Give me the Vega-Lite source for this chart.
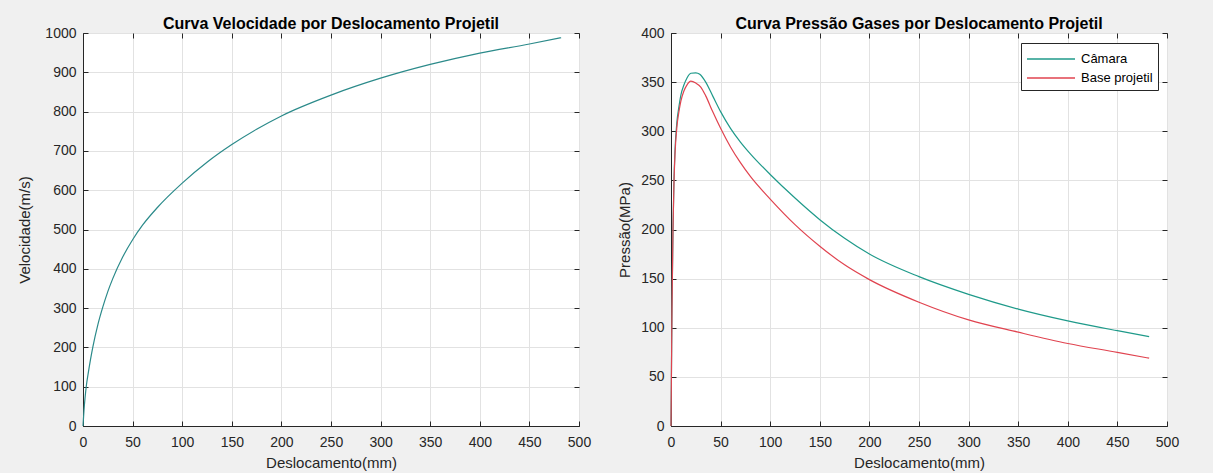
{
  "$schema": "https://vega.github.io/schema/vega-lite/v6.json",
  "padding": {"left": 17, "top": 15, "right": 34, "bottom": 4},
  "spacing": 25,
  "resolve": {"legend": {"color": "independent"}},
  "datasets": {
    "vel": [
      {"d": 0, "v": 0}, {"d": 1, "v": 40}, {"d": 2, "v": 70}, {"d": 3.5, "v": 105}, {"d": 5, "v": 130},
      {"d": 7.5, "v": 168}, {"d": 10, "v": 202}, {"d": 15, "v": 258}, {"d": 20, "v": 303}, {"d": 25, "v": 342},
      {"d": 30, "v": 375}, {"d": 40, "v": 430}, {"d": 50, "v": 474}, {"d": 60, "v": 511}, {"d": 75, "v": 556},
      {"d": 100, "v": 618}, {"d": 125, "v": 671}, {"d": 150, "v": 716}, {"d": 175, "v": 755}, {"d": 200, "v": 789},
      {"d": 250, "v": 842}, {"d": 300, "v": 885}, {"d": 350, "v": 920}, {"d": 400, "v": 949}, {"d": 450, "v": 972},
      {"d": 482, "v": 988}
    ],
    "pres": [
      {"d": 0, "p": 0, "serie": "Câmara"}, {"d": 0.5, "p": 60, "serie": "Câmara"}, {"d": 1, "p": 120, "serie": "Câmara"},
      {"d": 2, "p": 200, "serie": "Câmara"}, {"d": 3, "p": 250, "serie": "Câmara"}, {"d": 4, "p": 280, "serie": "Câmara"},
      {"d": 6, "p": 310, "serie": "Câmara"}, {"d": 8, "p": 325, "serie": "Câmara"}, {"d": 10, "p": 337, "serie": "Câmara"},
      {"d": 13, "p": 347, "serie": "Câmara"}, {"d": 16, "p": 354, "serie": "Câmara"}, {"d": 20, "p": 359, "serie": "Câmara"},
      {"d": 25, "p": 359.5, "serie": "Câmara"}, {"d": 29, "p": 358, "serie": "Câmara"}, {"d": 35, "p": 350, "serie": "Câmara"},
      {"d": 42, "p": 336, "serie": "Câmara"}, {"d": 50, "p": 320, "serie": "Câmara"}, {"d": 60, "p": 303, "serie": "Câmara"},
      {"d": 70, "p": 289, "serie": "Câmara"}, {"d": 80, "p": 277, "serie": "Câmara"}, {"d": 100, "p": 256, "serie": "Câmara"},
      {"d": 125, "p": 232, "serie": "Câmara"}, {"d": 150, "p": 210, "serie": "Câmara"}, {"d": 175, "p": 191, "serie": "Câmara"},
      {"d": 200, "p": 175, "serie": "Câmara"}, {"d": 250, "p": 152, "serie": "Câmara"}, {"d": 300, "p": 134, "serie": "Câmara"},
      {"d": 350, "p": 119, "serie": "Câmara"}, {"d": 400, "p": 107, "serie": "Câmara"}, {"d": 450, "p": 97, "serie": "Câmara"},
      {"d": 482, "p": 91, "serie": "Câmara"},
      {"d": 0, "p": 0, "serie": "Base projetil"}, {"d": 0.5, "p": 60, "serie": "Base projetil"}, {"d": 1, "p": 120, "serie": "Base projetil"},
      {"d": 2, "p": 200, "serie": "Base projetil"}, {"d": 3, "p": 248, "serie": "Base projetil"}, {"d": 4, "p": 276, "serie": "Base projetil"},
      {"d": 6, "p": 305, "serie": "Base projetil"}, {"d": 8, "p": 320, "serie": "Base projetil"}, {"d": 10, "p": 331, "serie": "Base projetil"},
      {"d": 13, "p": 341, "serie": "Base projetil"}, {"d": 16, "p": 347, "serie": "Base projetil"}, {"d": 20, "p": 351, "serie": "Base projetil"},
      {"d": 25, "p": 349, "serie": "Base projetil"}, {"d": 30, "p": 345, "serie": "Base projetil"}, {"d": 35, "p": 336, "serie": "Base projetil"},
      {"d": 42, "p": 320, "serie": "Base projetil"}, {"d": 50, "p": 303, "serie": "Base projetil"}, {"d": 60, "p": 284, "serie": "Base projetil"},
      {"d": 70, "p": 268, "serie": "Base projetil"}, {"d": 80, "p": 254, "serie": "Base projetil"}, {"d": 100, "p": 231, "serie": "Base projetil"},
      {"d": 125, "p": 205, "serie": "Base projetil"}, {"d": 150, "p": 183, "serie": "Base projetil"}, {"d": 175, "p": 164, "serie": "Base projetil"},
      {"d": 200, "p": 149, "serie": "Base projetil"}, {"d": 250, "p": 126, "serie": "Base projetil"}, {"d": 300, "p": 108, "serie": "Base projetil"},
      {"d": 350, "p": 95.5, "serie": "Base projetil"}, {"d": 400, "p": 84, "serie": "Base projetil"}, {"d": 450, "p": 75, "serie": "Base projetil"},
      {"d": 482, "p": 69, "serie": "Base projetil"}
    ]
  },
  "hconcat": [
    {
      "width": 496,
      "height": 393,
      "title": "Curva Velocidade por Deslocamento Projetil",
      "data": {"name": "vel"},
      "layer": [
        {
          "mark": {"type": "line", "color": "#2b8a8a", "strokeWidth": 1.2, "interpolate": "monotone"},
          "encoding": {
            "x": {"field": "d", "type": "quantitative", "scale": {"domain": [0, 500], "nice": false},
                  "axis": {"title": "Deslocamento(mm)", "values": [0, 50, 100, 150, 200, 250, 300, 350, 400, 450, 500]}},
            "y": {"field": "v", "type": "quantitative", "scale": {"domain": [0, 1000], "nice": false},
                  "axis": {"title": "Velocidade(m/s)", "format": "d", "titlePadding": 12, "values": [0, 100, 200, 300, 400, 500, 600, 700, 800, 900, 1000]}}
          }
        },
        {
          "mark": {"type": "point", "opacity": 0},
          "encoding": {
            "x": {"field": "d", "type": "quantitative", "scale": {"domain": [0, 500], "nice": false},
                  "axis": {"orient": "top", "title": null, "labels": false, "labelPadding": 0, "grid": false, "domain": false, "values": [0, 50, 100, 150, 200, 250, 300, 350, 400, 450, 500]}},
            "y": {"field": "v", "type": "quantitative", "scale": {"domain": [0, 1000], "nice": false},
                  "axis": {"orient": "right", "title": null, "labels": false, "labelPadding": 0, "grid": false, "domain": false, "values": [0, 100, 200, 300, 400, 500, 600, 700, 800, 900, 1000]}}
          }
        }
      ],
      "resolve": {"scale": {"x": "independent", "y": "independent"}}
    },
    {
      "width": 496,
      "height": 393,
      "title": "Curva Pressão Gases por Deslocamento Projetil",
      "data": {"name": "pres"},
      "layer": [
        {
          "mark": {"type": "line", "strokeWidth": 1.2, "interpolate": "monotone"},
          "encoding": {
            "x": {"field": "d", "type": "quantitative", "scale": {"domain": [0, 500], "nice": false},
                  "axis": {"title": "Deslocamento(mm)", "values": [0, 50, 100, 150, 200, 250, 300, 350, 400, 450, 500]}},
            "y": {"field": "p", "type": "quantitative", "scale": {"domain": [0, 400], "nice": false},
                  "axis": {"title": "Pressão(MPa)", "values": [0, 50, 100, 150, 200, 250, 300, 350, 400]}},
            "color": {"field": "serie", "type": "nominal",
                      "scale": {"domain": ["Câmara", "Base projetil"], "range": ["#1f9a8a", "#e0434f"]},
                      "legend": {"title": null, "orient": "none", "legendX": 350, "legendY": 10,
                                 "fillColor": "white", "strokeColor": "#262626", "padding": 5,
                                 "symbolType": "M-1,0L3.8,0", "symbolSize": 400, "symbolStrokeWidth": 1.5,
                                 "labelFontSize": 13, "labelColor": "#000000", "rowPadding": 1, "labelOffset": 33}},
            "order": {"field": "d", "type": "quantitative"}
          }
        },
        {
          "mark": {"type": "point", "opacity": 0},
          "encoding": {
            "x": {"field": "d", "type": "quantitative", "scale": {"domain": [0, 500], "nice": false},
                  "axis": {"orient": "top", "title": null, "labels": false, "labelPadding": 0, "grid": false, "domain": false, "values": [0, 50, 100, 150, 200, 250, 300, 350, 400, 450, 500]}},
            "y": {"field": "p", "type": "quantitative", "scale": {"domain": [0, 400], "nice": false},
                  "axis": {"orient": "right", "title": null, "labels": false, "labelPadding": 0, "grid": false, "domain": false, "values": [0, 50, 100, 150, 200, 250, 300, 350, 400]}}
          }
        }
      ],
      "resolve": {"scale": {"x": "independent", "y": "independent"}}
    }
  ],
  "config": {
    "background": "#f0f0f0",
    "font": "Liberation Sans",
    "view": {"stroke": "#262626", "strokeWidth": 1, "fill": "white"},
    "axis": {
      "gridColor": "#e2e2e2", "gridOpacity": 1, "domainColor": "#262626", "tickColor": "#262626",
      "labelColor": "#262626", "titleColor": "#262626", "labelFontSize": 14, "titleFontSize": 15,
      "titleFontWeight": "normal", "tickSize": -5, "labelPadding": 12, "titlePadding": 8, "labelFlush": false
    },
    "axisX": {"labelPadding": 14, "titlePadding": 6},
    "title": {"fontSize": 16, "fontWeight": "bold", "color": "#000000", "offset": -6, "font": "Liberation Sans"}
  }
}
